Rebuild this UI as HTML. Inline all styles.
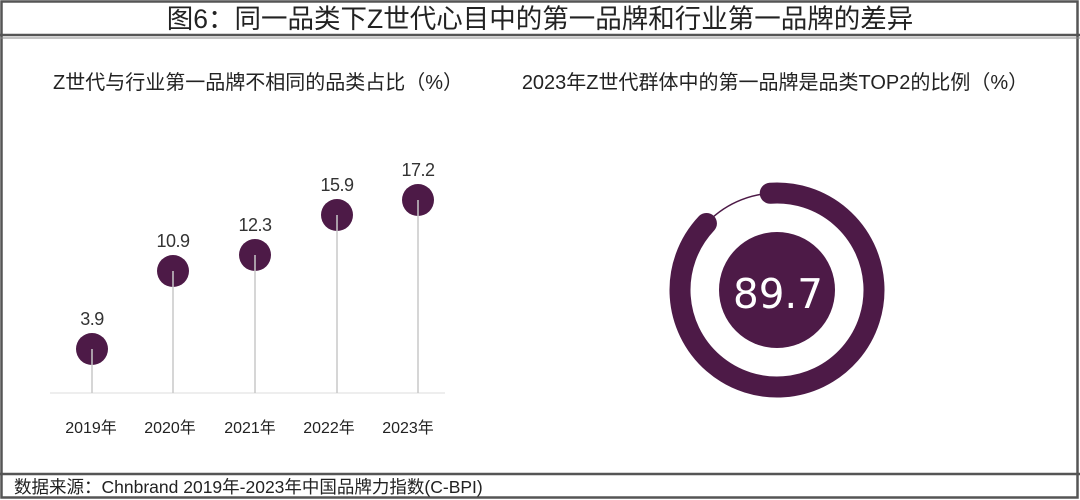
<!DOCTYPE html>
<html><head><meta charset="utf-8"><style>
html,body{margin:0;padding:0;background:#fff;}
body{width:1080px;height:500px;overflow:hidden;position:relative;font-family:"Liberation Sans","Noto Sans CJK SC",sans-serif;}
</style></head><body>
<svg width="1080" height="500" xmlns="http://www.w3.org/2000/svg" style="position:absolute;left:0;top:0">
<g fill="none" stroke="#555" stroke-width="2.5">
<rect x="1.5" y="1.5" width="1076" height="496"/>
<line x1="0" y1="35" x2="1080" y2="35"/>
<line x1="0" y1="474" x2="1080" y2="474"/>
</g>
<line x1="0" y1="38" x2="1080" y2="38" stroke="#888" stroke-width="1"/>
<text x="540" y="28" text-anchor="middle" font-size="26.5" fill="#222" font-family="Liberation Sans,Noto Sans CJK SC,sans-serif">图6：同一品类下Z世代心目中的第一品牌和行业第一品牌的差异</text>
<text x="258" y="89" text-anchor="middle" font-size="20" fill="#222" font-family="Liberation Sans,Noto Sans CJK SC,sans-serif">Z世代与行业第一品牌不相同的品类占比（%）</text>
<text x="775" y="89" text-anchor="middle" font-size="20" fill="#222" font-family="Liberation Sans,Noto Sans CJK SC,sans-serif">2023年Z世代群体中的第一品牌是品类TOP2的比例（%）</text>
<line x1="50" y1="393" x2="445" y2="393" stroke="#ddd" stroke-width="1"/>
<g stroke="#c8c8c8" stroke-width="1.5">
<line x1="92" y1="349" x2="92" y2="393"/><line x1="173" y1="271" x2="173" y2="393"/><line x1="255" y1="255" x2="255" y2="393"/><line x1="337" y1="215" x2="337" y2="393"/><line x1="418" y1="200" x2="418" y2="393"/>
</g>
<g fill="#4d1a47">
<circle cx="92" cy="349" r="16"/><circle cx="173" cy="271" r="16"/><circle cx="255" cy="255" r="16"/><circle cx="337" cy="215" r="16"/><circle cx="418" cy="200" r="16"/>
</g>
<g stroke="#c8c8c8" stroke-width="1.5">
<line x1="92" y1="349" x2="92" y2="365"/><line x1="173" y1="271" x2="173" y2="287"/><line x1="255" y1="255" x2="255" y2="271"/><line x1="337" y1="215" x2="337" y2="231"/><line x1="418" y1="200" x2="418" y2="216"/>
</g>
<g font-size="18" fill="#333" text-anchor="middle" letter-spacing="-0.5">
<text x="92" y="325">3.9</text><text x="173" y="247">10.9</text><text x="255" y="231">12.3</text><text x="337" y="191">15.9</text><text x="418" y="176">17.2</text>
</g>
<g font-size="16" fill="#222" text-anchor="middle" font-family="Liberation Sans,Noto Sans CJK SC,sans-serif">
<text x="91" y="433">2019年</text><text x="170" y="433">2020年</text><text x="250" y="433">2021年</text><text x="329" y="433">2022年</text><text x="408" y="433">2023年</text>
</g>
<circle cx="777" cy="290" r="97" fill="none" stroke="#4d1a47" stroke-width="1.5"/>
<circle cx="777" cy="290" r="97" fill="none" stroke="#4d1a47" stroke-width="21" stroke-linecap="round" stroke-dasharray="537 1000" transform="rotate(-94 777 290)"/>
<circle cx="777" cy="290" r="58" fill="#4d1a47"/>
<text x="733" y="308" font-size="41" fill="#fff" font-family="DejaVu Sans,sans-serif" textLength="90" lengthAdjust="spacingAndGlyphs">89.7</text>
<text x="14" y="493" font-size="17.5" fill="#222" font-family="Liberation Sans,Noto Sans CJK SC,sans-serif">数据来源：Chnbrand 2019年-2023年中国品牌力指数(C-BPI)</text>
</svg>
</body></html>
